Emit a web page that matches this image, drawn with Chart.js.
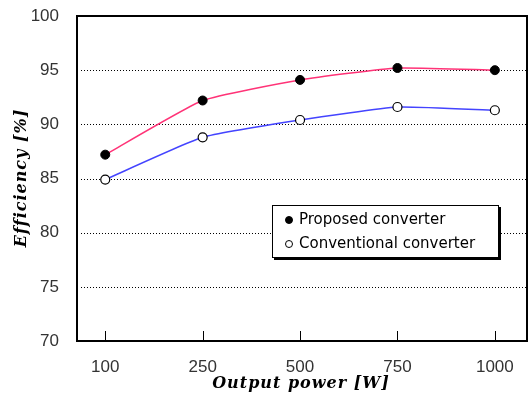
<!DOCTYPE html>
<html>
<head>
<meta charset="utf-8">
<script src="https://cdn.jsdelivr.net/npm/chart.js@4/dist/chart.umd.min.js"></script>
<style>
  html, body { margin: 0; padding: 0; background: #fff; }
</style>
</head>
<body>
<canvas id="effChart" width="529" height="396"></canvas>
<script>
// output power categories and measured efficiency
const powerLabels = ["100", "250", "500", "750", "1000"];
const proposed = [87.2, 92.2, 94.1, 95.2, 95.0];
const conventional = [84.9, 88.8, 90.4, 91.6, 91.3];
const yTicks = [70, 75, 80, 85, 90, 95, 100];

const toPoints = arr => arr.map((v, i) => ({ x: i, y: v }));

// frame, x tick marks, dotted grid, axis titles and the boxed legend
const decor = {
  id: 'decor',
  beforeDatasetsDraw(chart) {
    const ctx = chart.ctx;
    const a = chart.chartArea;
    const ys = chart.scales.y;
    ctx.save();
    ctx.strokeStyle = '#000';
    ctx.lineWidth = 1;
    ctx.setLineDash([1, 2]);
    yTicks.slice(1, -1).forEach(v => {
      const py = Math.round(ys.getPixelForValue(v)) + 0.5;
      ctx.beginPath();
      ctx.moveTo(a.left + 4, py);
      ctx.lineTo(a.right, py);
      ctx.stroke();
    });
    ctx.restore();
  },
  afterDraw(chart) {
    const ctx = chart.ctx;
    const a = chart.chartArea;
    const xs = chart.scales.x;
    ctx.save();

    // tick marks on the bottom axis, pointing inward
    ctx.strokeStyle = '#000';
    ctx.lineWidth = 1;
    powerLabels.forEach((l, i) => {
      const px = Math.round(xs.getPixelForValue(i)) + 0.5;
      ctx.beginPath();
      ctx.moveTo(px, a.bottom);
      ctx.lineTo(px, a.bottom - 10);
      ctx.stroke();
    });

    // plot frame
    ctx.lineWidth = 2;
    ctx.strokeRect(a.left, a.top, a.right - a.left, a.bottom - a.top);

    // axis titles
    ctx.fillStyle = '#000';
    ctx.font = 'italic bold 16px "DejaVu Serif"';
    ctx.letterSpacing = '1px';
    ctx.textAlign = 'center';
    ctx.textBaseline = 'middle';
    ctx.fillText('Output power [W]', 301, 384);
    ctx.save();
    ctx.translate(22, 178);
    ctx.rotate(-Math.PI / 2);
    ctx.fillText('Efficiency [%]', 0, 0);
    ctx.restore();
    ctx.letterSpacing = '0px';

    // legend box with drop shadow
    const bx = 272, by = 205, bw = 226, bh = 52;
    ctx.fillStyle = '#000';
    ctx.fillRect(bx + 2, by + 2, bw + 1, bh + 1);
    ctx.fillStyle = '#fff';
    ctx.fillRect(bx, by, bw, bh);
    ctx.lineWidth = 1;
    ctx.strokeStyle = '#000';
    ctx.strokeRect(bx + 0.5, by + 0.5, bw, bh);

    ctx.font = '15px "DejaVu Sans"';
    ctx.textAlign = 'left';
    chart.data.datasets.forEach((ds, i) => {
      const cy = by + 15 + i * 24;
      ctx.beginPath();
      ctx.arc(289, cy, 3.5, 0, Math.PI * 2);
      ctx.fillStyle = ds.pointBackgroundColor;
      ctx.fill();
      ctx.lineWidth = 1;
      ctx.strokeStyle = '#000';
      ctx.stroke();
      ctx.fillStyle = '#000';
      ctx.fillText(ds.label, 299, cy);
    });
    ctx.restore();
  }
};

new Chart(document.getElementById('effChart'), {
  type: 'line',
  data: {
    datasets: [
      {
        label: 'Proposed converter',
        data: toPoints(proposed),
        borderColor: '#ff3377',
        borderWidth: 1.5,
        tension: 0.15,
        pointRadius: 4.5,
        pointBackgroundColor: '#000',
        pointBorderColor: '#000',
        pointBorderWidth: 1
      },
      {
        label: 'Conventional converter',
        data: toPoints(conventional),
        borderColor: '#4444ff',
        borderWidth: 1.5,
        tension: 0.15,
        pointRadius: 4.5,
        pointBackgroundColor: '#fff',
        pointBorderColor: '#000',
        pointBorderWidth: 1.2
      }
    ]
  },
  options: {
    responsive: false,
    animation: false,
    layout: { autoPadding: false, padding: { top: 16, right: 2, left: 0, bottom: 0 } },
    plugins: {
      legend: { display: false },
      tooltip: { enabled: false }
    },
    scales: {
      x: {
        type: 'linear',
        min: -0.29,
        max: 4.33,
        afterBuildTicks: s => { s.ticks = powerLabels.map((l, i) => ({ value: i })); },
        afterFit: s => {
          s.height = 55;
          s.paddingLeft = 0;
          s.paddingRight = 0;
        },
        ticks: {
          callback: (v, i) => powerLabels[i],
          color: '#333',
          font: { family: 'Liberation Sans', size: 17 },
          padding: 8,
          maxRotation: 0
        },
        grid: { display: false },
        border: { display: false }
      },
      y: {
        min: 70,
        max: 100,
        afterBuildTicks: s => { s.ticks = yTicks.map(v => ({ value: v })); },
        afterFit: s => {
          s.width = 77;
          s.paddingTop = 0;
          s.paddingBottom = 0;
        },
        ticks: {
          color: '#333',
          font: { family: 'Liberation Sans', size: 17 },
          padding: 10
        },
        grid: { display: false },
        border: { display: false }
      }
    }
  },
  plugins: [decor]
});
</script>
</body>
</html>
